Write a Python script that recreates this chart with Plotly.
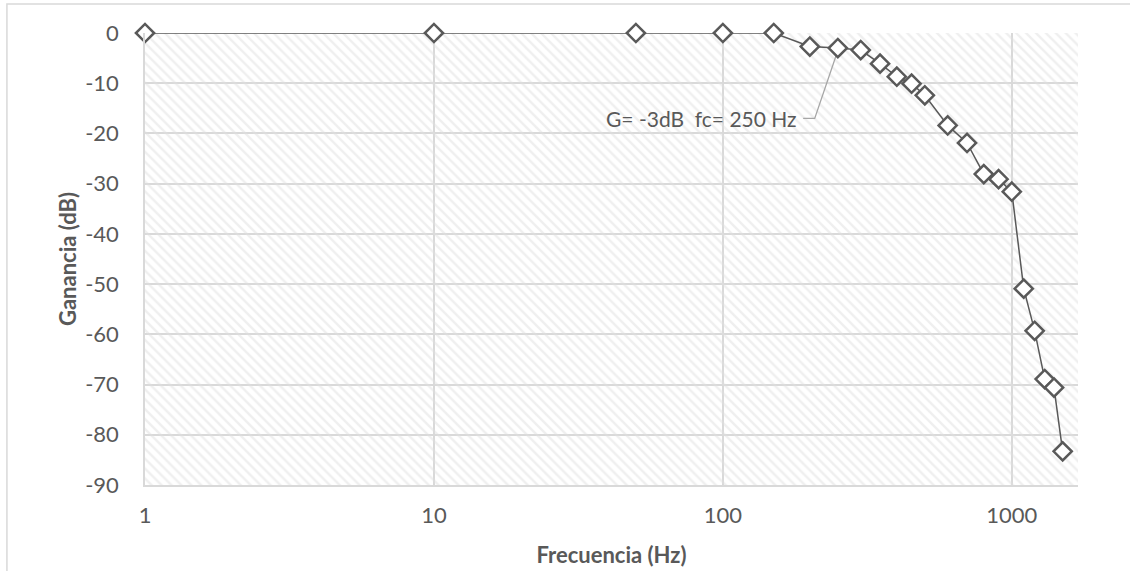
import plotly.graph_objects as go
import numpy as np

# ---- data ----
freq_hz = [1, 10, 50, 100, 150, 200, 250, 300, 350, 400, 450, 500, 600, 700,
           800, 900, 1000, 1100, 1200, 1300, 1400, 1500]
gain_db = [0, 0, 0, 0, 0, -2.7, -3.0, -3.4, -6.1, -8.7, -10.1, -12.4, -18.4, -21.9,
           -28.1, -29.1, -31.6, -50.9, -59.3, -68.9, -70.6, -83.3]
x_ticks = [1, 10, 100, 1000]
y_ticks = [0, -10, -20, -30, -40, -50, -60, -70, -80, -90]
y_tick_labels = ["0", "-10", "-20", "-30", "-40", "-50", "-60", "-70", "-80", "-90"]

# callout
callout_text = "G= -3dB  fc= 250 Hz"
callout_freq = 250
callout_gain = -3.0
callout_label_gain = -17

X_MIN, X_MAX = 1, 1695
Y_MIN, Y_MAX = -90, 0

GRID = "#d9d9d9"
DARK = "#595959"
FONT = "Lato"

fig = go.Figure()

# hatched plot background
fig.add_trace(go.Scatter(
    x=[X_MIN, X_MAX, X_MAX, X_MIN, X_MIN],
    y=[Y_MIN, Y_MIN, Y_MAX, Y_MAX, Y_MIN],
    mode="none", fill="toself", fillcolor="rgba(0,0,0,0)",
    fillpattern=dict(shape="\\", fgcolor="#e0e0e0", bgcolor="rgba(0,0,0,0)",
                     size=7, solidity=0.35, fillmode="overlay"),
    hoverinfo="skip", showlegend=False,
))

# callout leader line (text end -> short horizontal -> point)
lx = np.log10(callout_freq)
leader_x = [10 ** (lx - 0.12), 10 ** (lx - 0.08), callout_freq]
leader_y = [callout_label_gain, callout_label_gain, callout_gain - 0.5]
fig.add_trace(go.Scatter(
    x=leader_x, y=leader_y, mode="lines",
    line=dict(color="#a6a6a6", width=1.3),
    hoverinfo="skip", showlegend=False, cliponaxis=False,
))

# data
fig.add_trace(go.Scatter(
    x=freq_hz, y=gain_db, mode="lines+markers",
    line=dict(color=DARK, width=1.5),
    marker=dict(symbol="diamond", size=14, color="white",
                line=dict(color=DARK, width=2.5)),
    cliponaxis=False, showlegend=False,
))

fig.add_annotation(
    x=lx - 0.135, y=callout_label_gain, text=callout_text, showarrow=False,
    xanchor="right",
    font=dict(family=FONT, size=21, color=DARK),
)

# outer chart frame
fig.add_shape(type="path", xref="paper", yref="paper",
              path="M 1.3 1.064 L -0.148 1.064 L -0.148 -0.4",
              line=dict(color=GRID, width=1.5))

fig.update_layout(
    width=1130, height=571,
    margin=dict(l=145, r=52, t=33, b=86),
    paper_bgcolor="white", plot_bgcolor="white",
    font=dict(family=FONT, color=DARK, size=22),
    xaxis=dict(
        type="log", range=[np.log10(X_MIN), np.log10(X_MAX)],
        tickvals=x_ticks, ticktext=[str(v) for v in x_ticks],
        showgrid=True, gridcolor=GRID, gridwidth=1.5,
        showline=True, linecolor=GRID, linewidth=1.5,
        ticks="", ticklabelstandoff=10, zeroline=False, automargin=False,
        title=dict(text="<b>Frecuencia (Hz)</b>", standoff=20,
                   font=dict(family=FONT, size=22, color=DARK)),
    ),
    yaxis=dict(
        range=[Y_MIN, Y_MAX], tickvals=y_ticks, ticktext=y_tick_labels,
        showgrid=True, gridcolor=GRID, gridwidth=1.5,
        showline=True, linecolor=GRID, linewidth=1.5,
        ticks="", ticklabelstandoff=20, zeroline=False, automargin=False,
        title=dict(text="<b>Ganancia (dB)</b>", standoff=2,
                   font=dict(family=FONT, size=22, color=DARK)),
    ),
)

fig.write_html("out.html")
